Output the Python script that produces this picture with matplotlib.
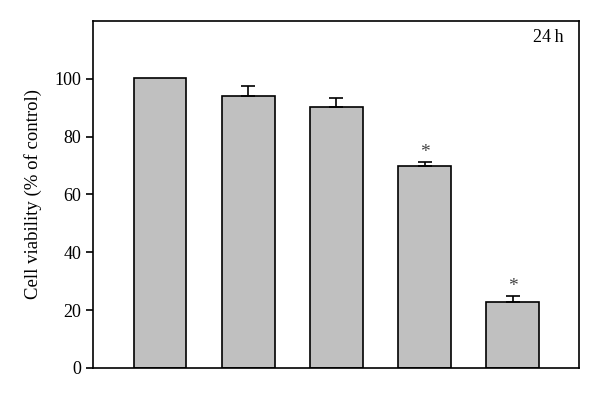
import matplotlib
matplotlib.use("Agg")
import matplotlib.pyplot as plt

plt.rcParams['font.family'] = ['Liberation Serif', 'DejaVu Serif']

groups = [0, 1, 2, 3, 4]
viability = [100.3, 93.9, 90.1, 69.9, 22.9]
err_up = [0.0, 3.7, 3.3, 1.2, 2.0]
signif = [False, False, False, True, True]

fig = plt.figure(figsize=(6, 4), dpi=100)
ax = fig.add_axes([0.155, 0.08, 0.81, 0.868])

ax.bar(groups, viability, width=0.6, color='#c0c0c0', edgecolor='black', linewidth=1.2)
# only upper error bars, and none for the control
eg = [g for g, e in zip(groups, err_up) if e > 0]
ev = [v for v, e in zip(viability, err_up) if e > 0]
ee = [e for e in err_up if e > 0]
ax.errorbar(eg, ev, yerr=[[0] * len(ee), ee], fmt='none',
            ecolor='black', elinewidth=1.2, capsize=5, capthick=1.2)
for g, v, e, s in zip(groups, viability, err_up, signif):
    if s:
        ax.text(g, v + e + 0.5, '*', ha='center', va='bottom', fontsize=14, color='#444444')

ax.set_xlim(-0.76, 4.75)
ax.set_ylim(0, 120)
ax.set_yticks([0, 20, 40, 60, 80, 100])
ax.set_xticks([])
for sp in ax.spines.values():
    sp.set_linewidth(1.2)
ax.tick_params(axis='y', direction='out', length=5, width=1.2, labelsize=13)
ax.set_ylabel('Cell viability (% of control)', fontsize=13.5, labelpad=9)
ax.text(0.968, 0.975, '24\u2009h', transform=ax.transAxes, ha='right', va='top', fontsize=13)

fig.savefig('out.png', dpi=100)
